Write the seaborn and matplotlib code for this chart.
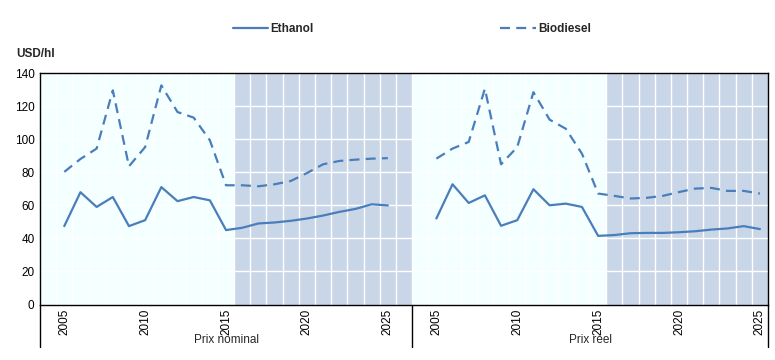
import matplotlib
matplotlib.use("Agg")
import matplotlib.pyplot as plt
from matplotlib.lines import Line2D
import seaborn as sns
import pandas as pd

years = list(range(2005, 2026))
panels = ["Prix nominal", "Prix réel"]
series = ["Ethanol", "Biodiesel"]
y_label = "USD/hl"

nominal_ethanol = [47.4, 67.9, 59.0, 65.0, 47.4, 51.0, 71.0, 62.5, 65.0, 63.0, 45.0,
                   46.4, 49.0, 49.6, 50.6, 52.0, 53.8, 56.0, 57.8, 60.6, 59.9]
nominal_biodiesel = [80.2, 88.0, 94.3, 129.5, 83.6, 95.2, 132.5, 116.4, 113.0, 99.3, 72.1,
                     72.1, 71.5, 72.7, 74.7, 79.5, 84.8, 86.8, 87.6, 88.2, 88.5]
real_ethanol = [52.0, 72.7, 61.4, 66.0, 47.6, 51.0, 69.7, 60.0, 61.0, 59.0, 41.5,
                42.0, 43.1, 43.3, 43.3, 43.7, 44.3, 45.3, 46.0, 47.4, 45.6]
real_biodiesel = [88.2, 94.3, 98.3, 130.5, 84.8, 95.2, 128.4, 111.8, 106.3, 91.2, 67.1,
                  65.7, 64.1, 64.5, 65.7, 68.0, 70.1, 70.5, 68.7, 68.7, 67.1]
projection_start = 2016
tick_years = [2005, 2010, 2015, 2020, 2025]

# slot layout: blank, 21 years, blank | blank, 21 years
offsets = {"Prix nominal": 1, "Prix réel": 24}
n_slots = 45

rows = []
vals = {("Prix nominal", "Ethanol"): nominal_ethanol,
        ("Prix nominal", "Biodiesel"): nominal_biodiesel,
        ("Prix réel", "Ethanol"): real_ethanol,
        ("Prix réel", "Biodiesel"): real_biodiesel}
for (p, s), v in vals.items():
    for i, (yr, val) in enumerate(zip(years, v)):
        rows.append({"panel": p, "series": s, "pos": offsets[p] + i, "year": yr, "value": val})
df = pd.DataFrame(rows)

sns.set_theme(style="white")
plt.rcParams["font.family"] = ["Liberation Sans", "DejaVu Sans"]

fig = plt.figure(figsize=(7.75, 3.6), dpi=100)
ax = fig.add_axes([40 / 775, 1 - 304.5 / 360, 728 / 775, 231.5 / 360])

color = "#4a7ebb"
cyan = "#f4ffff"
shade = "#c9d6e8"

# backgrounds
for p in panels:
    start = offsets[p] - 1
    proj = offsets[p] + years.index(projection_start)
    end = 23 if p == "Prix nominal" else n_slots
    ax.axvspan(start - 0.5, proj - 0.5, color=cyan, lw=0, zorder=0)
    ax.axvspan(proj - 0.5, end - 0.5, color=shade, lw=0, zorder=0)

for k in range(1, n_slots):
    ax.axvline(k - 0.5, color="white", lw=1, zorder=1)
for v in range(20, 140, 20):
    ax.axhline(v, color="white", lw=1, zorder=1)

sns.lineplot(data=df, x="pos", y="value", style="series", units="panel", estimator=None,
             dashes={"Ethanol": "", "Biodiesel": (4.5, 2.8)}, color=color, lw=1.6,
             ax=ax, legend=False, zorder=3)

ax.set_xlim(-0.5, n_slots - 0.5)
ax.set_ylim(0, 140)
ax.set_yticks(range(0, 141, 20))
ticks = []
labels = []
for p in panels:
    for ty in tick_years:
        ticks.append(offsets[p] + years.index(ty))
        labels.append(str(ty))
ax.set_xticks(ticks)
ax.set_xticklabels(labels, rotation=90, va="top", ha="center", fontsize=8.5)
ax.tick_params(axis="both", length=0, labelsize=8.5, colors="black", pad=4)
ax.tick_params(axis="x", pad=3)
ax.set_xlabel("")
ax.set_ylabel("")
for sp in ax.spines.values():
    sp.set_visible(True)
    sp.set_color("black")
    sp.set_linewidth(1)
ax.grid(False)

ext = -(347 - 304.5) / 231.5
for xx in [0, 1]:
    ax.add_line(Line2D([xx, xx], [0, ext], transform=ax.transAxes, color="black", lw=1, clip_on=False))
div = 23 / n_slots
ax.add_line(Line2D([div, div], [0, ext], transform=ax.transAxes, color="black", lw=1, clip_on=False))

for p in panels:
    if p == "Prix nominal":
        cx = (0 + 23) / 2 / n_slots
    else:
        cx = (23 + n_slots) / 2 / n_slots
    ax.text(cx, -(340 - 304.5) / 231.5, p, transform=ax.transAxes, ha="center", va="center", fontsize=8.5)

fig.text(16 / 775, 1 - 54 / 360, y_label, fontsize=8.5, fontweight="bold", ha="left", va="center")

handles = [Line2D([], [], color=color, lw=1.6),
           Line2D([], [], color=color, lw=1.6, dashes=(4.5, 2.8))]
leg = fig.legend(handles, series, loc="center", bbox_to_anchor=(412 / 775, 1 - 29 / 360),
                 ncol=2, frameon=False, handlelength=3.0, handletextpad=0.2, columnspacing=15.8,
                 prop={"size": 8.5, "weight": "bold"})

fig.savefig("out.png", dpi=100)
